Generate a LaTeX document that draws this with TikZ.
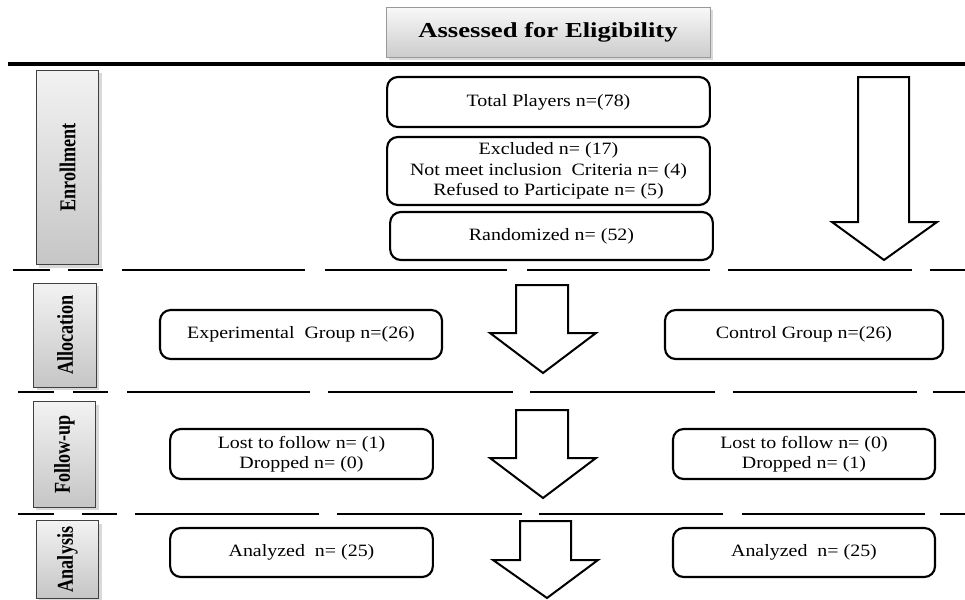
\documentclass[tikz,border=0pt]{standalone}
\usepackage{fontspec}
\setmainfont[FakeStretch=1.15]{Liberation Serif}
\newfontfamily\headfont[FakeStretch=1.25]{Liberation Serif}
\newfontfamily\sidefont[FakeStretch=0.8]{Liberation Serif}
\usetikzlibrary{shadows}

\tikzset{
  flowbox/.style={draw, line width=1.6pt, rounded corners=8pt, align=center, inner sep=0.75pt, font=\fontsize{13}{15.3}\selectfont},
  phasebox/.style={draw=black!75, line width=0.6pt, top color=gray!10, bottom color=gray!45, inner sep=0.75pt, minimum width=47pt, font=\sidefont\bfseries\fontsize{17}{20}\selectfont, drop shadow={opacity=0.3}},
  titlebox/.style={draw=gray!80, line width=0.6pt, top color=gray!5, bottom color=gray!40, inner sep=0.75pt, minimum width=243pt, minimum height=37.5pt, font=\headfont\bfseries\fontsize{16}{19}\selectfont, drop shadow={opacity=0.3}},
  bigarrow/.style={draw, line width=1.5pt, line join=miter, fill=white},
  sepline/.style={line width=2pt},
}

\begin{document}
\begin{tikzpicture}[x=0.75pt,y=0.75pt,yscale=-1,xscale=1]
	\useasboundingbox (0,0) rectangle (965,600);
	% heading and rules
	\node[titlebox] (assess) at (548,32) {Assessed for Eligibility};
	\draw[line width=2.5pt] (8,64) -- (965,64);
	\foreach \a/\b in {13/50,68/103,122/305,325/507,527/710,728/912,930/965}
		\draw[sepline] (\a,270) -- (\b,270);
	\foreach \a/\b in {18/54,73/108,127/310,328/513,530/715,733/917,933/965}
		\draw[sepline] (\a,392) -- (\b,392);
	\foreach \a/\b in {18/54,82/117,135/319,337/522,539/723,742/925,940/965}
		\draw[sepline] (\a,514) -- (\b,514);
	% phase labels
	\node[phasebox, minimum height=146pt] (enroll) at (67.5,167.5) {\rotatebox{90}{Enrollment}};
	\node[phasebox, minimum height=78pt] (alloc) at (65,335) {\rotatebox{90}{Allocation}};
	\node[phasebox, minimum height=79pt] (follow) at (64.5,454.5) {\rotatebox{90}{Follow-up}};
	\node[phasebox, minimum height=58pt] (analysis) at (67.5,559.5) {\rotatebox{90}{Analysis}};
	% enrollment
	\node[flowbox, minimum width=242pt, minimum height=37.5pt] (total) at (548.5,102) {Total Players n=(78)};
	\node[flowbox, minimum width=242pt, minimum height=51pt] (excluded) at (548.5,171) {Excluded n= (17)\\Not meet inclusion\ \ Criteria n= (4)\\Refused to Participate n= (5)};
	\node[flowbox, minimum width=242pt, minimum height=36pt] (random) at (551.5,236) {Randomized n= (52)};
	% allocation
	\node[flowbox, minimum width=211.5pt, minimum height=36.75pt] (expgroup) at (301,334.5) {Experimental\ \ Group n=(26)};
	\node[flowbox, minimum width=208.5pt, minimum height=36.75pt] (ctrlgroup) at (804,334.5) {Control Group n=(26)};
	% follow-up
	\node[flowbox, minimum width=197pt, minimum height=37.5pt] (explost) at (301.5,454) {Lost to follow n= (1)\\Dropped n= (0)};
	\node[flowbox, minimum width=196.5pt, minimum height=37.5pt] (ctrllost) at (804,454) {Lost to follow n= (0)\\Dropped n= (1)};
	% analysis
	\node[flowbox, minimum width=197pt, minimum height=36.75pt] (expanalyzed) at (301.5,552.5) {Analyzed\ \ n= (25)};
	\node[flowbox, minimum width=196.5pt, minimum height=36.75pt] (ctrlanalyzed) at (804,552.5) {Analyzed\ \ n= (25)};
	% block arrows
	\draw[bigarrow] (858,77) -- (909,77) -- (909,222) -- (937,222) -- (884,260) -- (832,222) -- (858,222) -- cycle;
	\draw[bigarrow] (516,285) -- (568,285) -- (568,333) -- (596,333) -- (543,373) -- (490,333) -- (516,333) -- cycle;
	\draw[bigarrow] (516,410) -- (568,410) -- (568,458) -- (596,458) -- (543,498) -- (490,458) -- (516,458) -- cycle;
	\draw[bigarrow] (520,521) -- (571,521) -- (571,560) -- (598,560) -- (547,598) -- (493,560) -- (520,560) -- cycle;
\end{tikzpicture}
\end{document}
